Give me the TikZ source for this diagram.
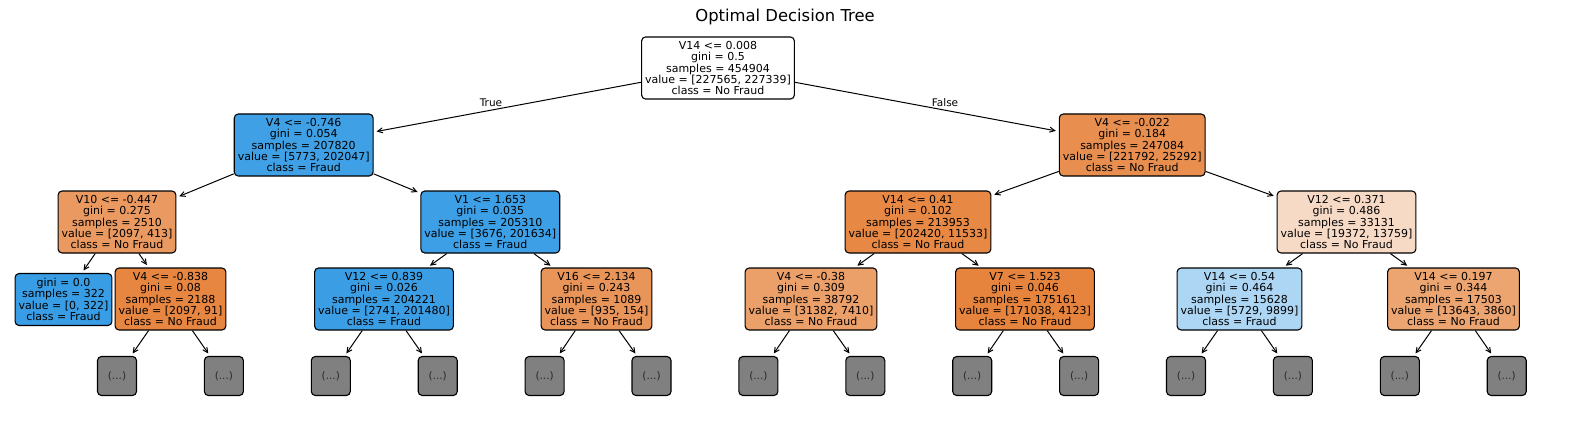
\documentclass[tikz,border=0pt]{standalone}
\usepackage{fontspec}
\setmainfont{DejaVu Sans}
\usetikzlibrary{arrows.meta}
\definecolor{skor}{HTML}{E58139}
\definecolor{skbl}{HTML}{399DE5}
\definecolor{skgray}{HTML}{808080}
\definecolor{dotsclr}{HTML}{2A2A2A}
\begin{document}
\begin{tikzpicture}[x=1pt,y=-1pt,
  tnode/.style={draw=black, line width=1.1pt, rounded corners=4pt, align=center,
    font=\fontsize{11}{11.4}\selectfont, inner xsep=3.5pt, inner ysep=2pt,
    minimum height=62pt},
  leafnode/.style={tnode, minimum height=52pt},
  dotbox/.style={draw=black, line width=1.1pt, rounded corners=4pt, fill=skgray,
    minimum width=39pt, minimum height=39pt, inner sep=0pt,
    font=\fontsize{10.5}{12}\selectfont, text=dotsclr},
  edgearrow/.style={-{Straight Barb[length=5pt,width=5pt]}, line width=1pt,
    shorten >=3pt, draw=black},
  edgelbl/.style={font=\fontsize{10.5}{12}\selectfont, inner sep=0pt},
  titlestyle/.style={font=\fontsize{16.4}{19}\selectfont, inner sep=0pt}]
\useasboundingbox (0,0) rectangle (1570,425);

\node[titlestyle] (title) at (785,17) {Optimal Decision Tree};

% level 0
\node[tnode, fill=white] (root) at (718,68)
  {V14 <= 0.008\\gini = 0.5\\samples = 454904\\value = [227565, 227339]\\class = No Fraud};

% level 1
\node[tnode, fill=skbl!97!white] (A) at (303.7,145)
  {V4 <= -0.746\\gini = 0.054\\samples = 207820\\value = [5773, 202047]\\class = Fraud};
\node[tnode, fill=skor!89!white] (B) at (1132.2,145)
  {V4 <= -0.022\\gini = 0.184\\samples = 247084\\value = [221792, 25292]\\class = No Fraud};

% level 2
\node[tnode, fill=skor!80!white] (A1) at (117,222)
  {V10 <= -0.447\\gini = 0.275\\samples = 2510\\value = [2097, 413]\\class = No Fraud};
\node[tnode, fill=skbl!98!white] (A2) at (490.3,222)
  {V1 <= 1.653\\gini = 0.035\\samples = 205310\\value = [3676, 201634]\\class = Fraud};
\node[tnode, fill=skor!94!white] (B1) at (918,222)
  {V14 <= 0.41\\gini = 0.102\\samples = 213953\\value = [202420, 11533]\\class = No Fraud};
\node[tnode, fill=skor!29!white] (B2) at (1346.5,222)
  {V12 <= 0.371\\gini = 0.486\\samples = 33131\\value = [19372, 13759]\\class = No Fraud};

% level 3
\node[leafnode, fill=skbl] (L) at (63.5,299.5)
  {gini = 0.0\\samples = 322\\value = [0, 322]\\class = Fraud};
\node[tnode, fill=skor!96!white] (A1b) at (170.5,299)
  {V4 <= -0.838\\gini = 0.08\\samples = 2188\\value = [2097, 91]\\class = No Fraud};
\node[tnode, fill=skbl!99!white] (A2a) at (384,299)
  {V12 <= 0.839\\gini = 0.026\\samples = 204221\\value = [2741, 201480]\\class = Fraud};
\node[tnode, fill=skor!84!white] (A2b) at (596.5,299)
  {V16 <= 2.134\\gini = 0.243\\samples = 1089\\value = [935, 154]\\class = No Fraud};
\node[tnode, fill=skor!76!white] (B1a) at (811,299)
  {V4 <= -0.38\\gini = 0.309\\samples = 38792\\value = [31382, 7410]\\class = No Fraud};
\node[tnode, fill=skor!98!white] (B1b) at (1025,299)
  {V7 <= 1.523\\gini = 0.046\\samples = 175161\\value = [171038, 4123]\\class = No Fraud};
\node[tnode, fill=skbl!42!white] (B2a) at (1239.5,299)
  {V14 <= 0.54\\gini = 0.464\\samples = 15628\\value = [5729, 9899]\\class = Fraud};
\node[tnode, fill=skor!72!white] (B2b) at (1453.5,299)
  {V14 <= 0.197\\gini = 0.344\\samples = 17503\\value = [13643, 3860]\\class = No Fraud};

% level 4 (truncated)
\node[dotbox] (g0) at (117,376) {(...)};
\node[dotbox] (g1) at (223.9,376) {(...)};
\node[dotbox] (g2) at (330.8,376) {(...)};
\node[dotbox] (g3) at (437.7,376) {(...)};
\node[dotbox] (g4) at (544.6,376) {(...)};
\node[dotbox] (g5) at (651.5,376) {(...)};
\node[dotbox] (g6) at (758.4,376) {(...)};
\node[dotbox] (g7) at (865.3,376) {(...)};
\node[dotbox] (g8) at (972.2,376) {(...)};
\node[dotbox] (g9) at (1079.1,376) {(...)};
\node[dotbox] (g10) at (1186,376) {(...)};
\node[dotbox] (g11) at (1292.9,376) {(...)};
\node[dotbox] (g12) at (1399.8,376) {(...)};
\node[dotbox] (g13) at (1506.7,376) {(...)};

% edges
\draw[edgearrow] (root) -- (A);
\draw[edgearrow] (root) -- (B);
\draw[edgearrow] (A) -- (A1);
\draw[edgearrow] (A) -- (A2);
\draw[edgearrow] (B) -- (B1);
\draw[edgearrow] (B) -- (B2);
\draw[edgearrow] (A1) -- (L);
\draw[edgearrow] (A1) -- (A1b);
\draw[edgearrow] (A2) -- (A2a);
\draw[edgearrow] (A2) -- (A2b);
\draw[edgearrow] (B1) -- (B1a);
\draw[edgearrow] (B1) -- (B1b);
\draw[edgearrow] (B2) -- (B2a);
\draw[edgearrow] (B2) -- (B2b);
\draw[edgearrow] (A1b) -- (g0);
\draw[edgearrow] (A1b) -- (g1);
\draw[edgearrow] (A2a) -- (g2);
\draw[edgearrow] (A2a) -- (g3);
\draw[edgearrow] (A2b) -- (g4);
\draw[edgearrow] (A2b) -- (g5);
\draw[edgearrow] (B1a) -- (g6);
\draw[edgearrow] (B1a) -- (g7);
\draw[edgearrow] (B1b) -- (g8);
\draw[edgearrow] (B1b) -- (g9);
\draw[edgearrow] (B2a) -- (g10);
\draw[edgearrow] (B2a) -- (g11);
\draw[edgearrow] (B2b) -- (g12);
\draw[edgearrow] (B2b) -- (g13);

% edge labels
\node[edgelbl] (lblTrue) at (491,103) {True};
\node[edgelbl] (lblFalse) at (945,103) {False};
\end{tikzpicture}
\end{document}
